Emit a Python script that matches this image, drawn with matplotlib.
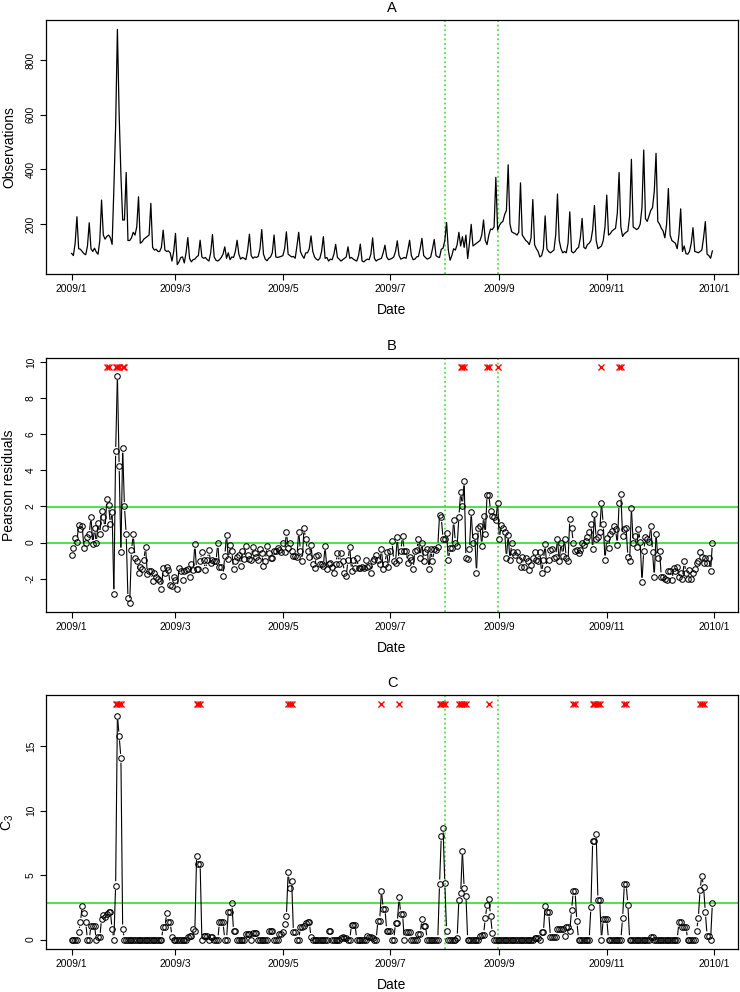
import numpy as np
import pandas as pd
import matplotlib
matplotlib.use('Agg')
import matplotlib.pyplot as plt
from matplotlib.collections import LineCollection

plt.rcParams['font.family'] = ['Liberation Sans', 'DejaVu Sans']
plt.rcParams['mathtext.default'] = 'regular'

# ---- data (daily, 2009-01-01 .. 2009-12-31) ----
start = pd.Timestamp('2009-01-01')
tick_dates = ['2009-01-01', '2009-03-01', '2009-05-01', '2009-07-01',
              '2009-09-01', '2009-11-01', '2010-01-01']
tick_labels = ['2009/1', '2009/3', '2009/5', '2009/7', '2009/9', '2009/11', '2010/1']
event_dates = ['2009-08-01', '2009-08-31']

observations = [
    93, 85, 130, 227, 110, 108, 100,
    92, 88, 120, 205, 110, 100, 112,
    98, 90, 140, 288, 160, 145, 155,
    160, 150, 126, 330, 560, 912, 600,
    380, 215, 215, 389, 140, 140, 150,
    170, 160, 190, 300, 130, 135, 145,
    150, 155, 160, 276, 115, 105, 108,
    100, 100, 115, 178, 105, 100, 102,
    95, 65, 100, 166, 52, 62, 78,
    80, 58, 95, 151, 75, 62, 70,
    72, 80, 85, 141, 80, 75, 78,
    70, 65, 95, 162, 80, 68, 65,
    70, 78, 90, 117, 75, 95, 70,
    80, 78, 100, 141, 90, 72, 78,
    75, 70, 105, 163, 85, 75, 80,
    78, 82, 110, 180, 90, 72, 66,
    75, 80, 95, 160, 80, 78, 80,
    82, 85, 110, 172, 90, 85, 80,
    82, 75, 120, 170, 100, 85, 75,
    95, 95, 110, 157, 100, 80, 72,
    68, 75, 100, 154, 75, 78, 65,
    72, 70, 90, 126, 78, 72, 65,
    70, 75, 80, 117, 75, 78, 72,
    68, 65, 85, 127, 65, 62, 68,
    72, 70, 90, 150, 75, 65, 70,
    72, 75, 95, 123, 80, 70, 72,
    75, 80, 100, 139, 85, 72, 75,
    78, 75, 105, 141, 85, 70, 72,
    80, 82, 110, 148, 85, 78, 72,
    75, 80, 110, 144, 85, 80, 78,
    108, 112, 140, 206, 105, 68, 85,
    110, 105, 125, 170, 120, 154, 115,
    160, 74, 130, 199, 120, 125, 130,
    135, 140, 160, 215, 140, 125, 160,
    182, 180, 190, 371, 178, 195, 205,
    210, 235, 250, 417, 200, 172, 168,
    165, 160, 170, 351, 160, 150, 140,
    135, 125, 150, 290, 125, 110, 100,
    80, 85, 110, 230, 110, 100, 95,
    100, 105, 160, 310, 140, 110, 95,
    100, 95, 130, 245, 100, 95, 100,
    110, 115, 150, 221, 115, 110, 125,
    130, 140, 180, 268, 140, 110, 115,
    120, 140, 190, 306, 160, 165, 175,
    180, 185, 240, 389, 190, 155, 165,
    170, 175, 230, 437, 190, 185, 180,
    185, 200, 260, 471, 220, 210, 230,
    250, 260, 320, 459, 210, 200, 185,
    175, 150, 200, 330, 160, 140, 135,
    130, 110, 160, 256, 100, 120, 92,
    90, 100, 130, 187, 100, 98, 95,
    100, 105, 150, 209, 90, 85, 75,
    102,
]

pearson = [
    -0.70, -0.30, 0.24, 0.04, 1.00, 0.74, 0.93,
    -0.33, -0.05, 0.31, 0.46, 1.43, -0.10, 0.80,
    -0.05, 1.10, 0.46, 1.76, 1.43, 0.78, 2.40,
    2.07, 1.02, 1.72, -2.83, 5.06, 9.25, 4.22,
    -0.52, 5.22, 2.00, 0.46, -3.10, -3.33, -0.43,
    0.46, -0.83, -1.05, -1.70, -1.35, -1.48, -0.98,
    -0.24, -1.72, -1.57, -1.60, -2.13, -1.67, -1.90,
    -2.04, -2.13, -2.55, -1.43, -1.67, -1.33, -1.54,
    -2.35, -2.40, -1.90, -2.10, -2.55, -1.39, -1.60,
    -2.07, -1.60, -1.54, -1.48, -1.90, -1.17, -1.54,
    -0.10, -1.48, -1.44, -1.05, -0.52, -0.98, -1.54,
    -0.98, -0.43, -1.11, -0.98, -1.02, -1.05, -0.05,
    -1.35, -1.35, -1.85, -0.74, 0.43, -0.93, -0.15,
    -0.46, -1.48, -1.05, -0.78, -0.70, -1.30, -0.46,
    -0.93, -0.19, -0.70, -0.89, -0.96, -0.22, -0.59,
    -0.78, -0.98, -0.37, -0.59, -1.30, -1.02, -0.19,
    -0.59, -0.83, -0.87, -0.46, -0.46, -0.31, -0.43,
    -0.52, 0.00, -0.52, 0.56, -0.28, -0.04, -0.46,
    -0.74, -0.74, -0.78, 0.61, -0.46, -1.02, 0.80,
    0.19, -0.46, -0.78, -0.13, -1.17, -1.43, -0.74,
    -0.70, -1.20, -1.17, -1.30, -0.19, -1.48, -1.20,
    -1.11, -1.33, -1.70, -1.17, -0.59, -1.17, -0.59,
    -1.02, -1.67, -1.85, -0.98, -0.22, -1.57, -0.98,
    -1.43, -0.83, -1.43, -1.39, -1.33, -1.43, -0.98,
    -1.35, -1.30, -1.67, -1.05, -0.90, -0.70, -0.98,
    -1.20, -0.37, -1.44, -1.17, -0.50, -1.35, -0.46,
    0.06, -1.02, -1.11, 0.28, -0.98, -0.46, 0.37,
    -0.46, -0.46, -1.11, -0.80, -0.98, -1.48, -0.46,
    -0.43, 0.17, -0.83, 0.00, -1.02, -0.50, -0.37,
    -1.48, -0.37, -1.05, -0.37, -0.43, -0.24, 1.52,
    1.39, 0.19, 0.19, 0.52, -0.98, -0.33, -0.28,
    1.24, 0.00, -0.20, 1.43, 2.81, 2.04, 3.41,
    -0.83, -0.89, -0.37, 1.70, 0.00, 0.37, -1.67,
    0.80, 0.89, -0.19, 1.48, 0.46, 2.65, 2.65,
    1.76, 1.48, 1.39, 1.26, 2.22, 0.19, 0.98,
    0.80, 0.61, -0.87, 0.43, -0.98, -0.05, -0.52,
    -0.70, -0.52, -0.96, -1.33, -0.80, -1.33, -0.83,
    -1.05, -1.54, -1.24, -0.83, -0.52, -0.96, -1.05,
    -0.50, -1.70, -0.98, -0.09, -1.44, -0.96, -0.43,
    -0.37, -0.87, -0.78, 0.19, -1.02, 0.00, -0.74,
    0.19, -0.83, -1.05, 1.30, 0.83, 0.00, -0.46,
    -0.43, -0.59, -0.43, 0.00, -0.15, 0.09, 0.31,
    0.56, 1.02, -0.37, 1.61, 0.19, 0.31, 0.61,
    2.22, 1.02, -0.96, 0.24, -0.31, 0.46, 0.65,
    0.89, 0.74, -0.13, 2.17, 2.69, 0.37, 0.74,
    0.83, -0.80, -1.05, 1.94, 0.00, 0.37, -0.24,
    0.74, 0.04, -2.19, -0.46, 0.28, 0.19, 0.04,
    0.93, -0.50, -1.90, 0.50, -0.83, -0.46, -1.90,
    -1.90, -2.04, -2.09, -1.57, -1.60, -2.09, -1.43,
    -1.60, -1.35, -1.90, -1.70, -2.00, -1.05, -1.70,
    -2.00, -1.52, -2.04, -1.70, -1.48, -1.15, -1.02,
    -0.52, -0.78, -1.15, -0.87, -1.15, -0.83, -1.60,
    -0.05,
]

c3 = [
    0, 0, 0, 0, 0.57, 1.34, 2.64,
    2.07, 1.34, 0, 0, 1.09, 1.09, 1.09,
    0, 0.18, 0.18, 1.60, 1.94, 1.73, 2.00,
    2.17, 2.17, 0.83, 0, 4.19, 17.38, 15.8,
    14.07, 0.83, 0, 0, 0, 0, 0,
    0, 0, 0, 0, 0, 0, 0,
    0, 0, 0, 0, 0, 0, 0,
    0, 0, 0, 0.96, 0.96, 2.07, 1.34,
    1.34, 0.23, 0, 0, 0, 0, 0,
    0, 0, 0, 0.18, 0.30, 0.30, 0.83,
    0.65, 6.52, 5.87, 5.87, 0, 0.30, 0.30,
    0.30, 0, 0.18, 0.18, 0, 0, 0,
    1.34, 1.34, 1.34, 0, 0, 2.17, 2.17,
    2.82, 0.65, 0.65, 0, 0, 0, 0,
    0, 0.44, 0.44, 0.44, 0, 0.49, 0.49,
    0.49, 0, 0, 0, 0, 0, 0,
    0.70, 0.70, 0.70, 0, 0, 0, 0.44,
    0.44, 0.57, 1.22, 1.81, 5.22, 4.00, 4.58,
    0.57, 0.57, 0, 0, 0.96, 0.96, 1.09,
    1.27, 1.34, 1.34, 0.18, 0, 0, 0,
    0, 0, 0, 0, 0, 0, 0.65,
    0.65, 0, 0, 0, 0, 0, 0.13,
    0.23, 0.13, 0.13, 0, 0, 1.16, 1.16,
    1.16, 0, 0, 0, 0, 0, 0,
    0.30, 0.23, 0.23, 0.13, 0, 0, 1.47,
    1.47, 3.80, 2.38, 2.38, 0.70, 0.70, 0.70,
    0, 0, 1.29, 1.29, 3.28, 1.99, 1.99,
    0, 0.57, 0.57, 0.57, 0, 0, 0,
    0, 0.44, 0.44, 1.60, 1.09, 1.09, 0,
    0, 0, 0, 0, 0, 0, 4.32,
    8.02, 8.66, 4.37, 0.70, 0, 0, 0,
    0, 0, 0.13, 3.10, 3.59, 6.90, 3.98,
    3.41, 0, 0, 0, 0, 0, 0,
    0, 0.30, 0.39, 0.39, 1.66, 2.69, 3.15,
    1.86, 0.49, 0, 0, 0, 0, 0,
    0, 0, 0, 0, 0, 0, 0,
    0, 0, 0, 0, 0, 0, 0,
    0, 0, 0, 0, 0.13, 0.13, 0.13,
    0, 0.57, 0.57, 2.64, 2.12, 2.12, 0.18,
    0.18, 0.18, 0.18, 0.83, 0.83, 0.83, 0.83,
    0.30, 1.00, 1.00, 0.65, 2.30, 3.75, 3.75,
    1.42, 0, 0, 0, 0, 0, 0,
    0, 2.51, 7.63, 7.63, 8.20, 3.08, 3.08,
    0, 1.60, 1.60, 1.60, 0, 0, 0,
    0, 0, 0, 0, 0, 1.66, 4.32,
    4.32, 2.72, 0, 0, 0, 0, 0,
    0, 0, 0, 0, 0, 0, 0,
    0.18, 0.18, 0, 0, 0, 0, 0,
    0, 0, 0, 0, 0, 0, 0,
    0, 0, 1.34, 1.34, 0.96, 0.96, 0.96,
    0, 0, 0, 0, 0, 0.70, 1.66,
    3.85, 4.97, 4.11, 2.12, 0.30, 0.30, 0,
    2.82,
]

pearson_threshold = 1.96
c3_threshold = 2.85

obs = np.array(observations, dtype=float)
res = np.array(pearson, dtype=float)
c3v = np.array(c3, dtype=float)
days = np.arange(len(obs))

GREEN = '#2fdc2f'


def day_of(s):
    return (pd.Timestamp(s) - start).days


def type_b(ax, x, y, gap=4.4, lw=0.8):
    # R type="b": points joined by line pieces that stop short of the symbols
    pts = ax.transData.transform(np.column_stack([x, y]))
    inv = ax.transData.inverted()
    segs = []
    for p0, p1 in zip(pts[:-1], pts[1:]):
        d = p1 - p0
        L = np.hypot(d[0], d[1])
        if L > 2 * gap + 0.8:
            u = d / L
            segs.append(inv.transform(np.array([p0 + u * gap, p1 - u * gap])))
    ax.add_collection(LineCollection(segs, colors='black', linewidths=lw))
    ax.plot(x, y, 'o', ms=4.0, mfc='none', mec='black', mew=0.75, zorder=3)


def style(ax, lo, hi, title, ylabel, yticks):
    pad = 0.04 * (hi - lo)
    ax.set_ylim(lo - pad, hi + pad)
    xpad = 0.04 * (days[-1] - days[0])
    ax.set_xlim(days[0] - xpad, days[-1] + xpad)
    ax.set_xticks([day_of(t) for t in tick_dates])
    ax.set_xticklabels(tick_labels)
    ax.set_yticks(yticks)
    ax.set_yticklabels([str(v) for v in yticks], rotation=90, va='center')
    ax.tick_params(direction='out', length=4.3, width=0.8, labelsize=7.4, pad=3)
    for sp in ax.spines.values():
        sp.set_linewidth(0.9)
    ax.set_title(title, fontsize=10.5, pad=5.5)
    ax.set_xlabel('Date', fontsize=10)
    ax.set_ylabel(ylabel, fontsize=10)
    ax.xaxis.set_label_coords(0.5, -0.114)
    ax.yaxis.set_label_coords(-0.043, 0.5)
    for ev in event_dates:
        ax.axvline(day_of(ev), color=GREEN, ls=(0, (1.2, 1.8)), lw=1.1, zorder=1)


fig = plt.figure(figsize=(7.4, 9.92), dpi=100)
W = 692 / 740
L0 = 46 / 740
H = 254 / 992

# A: observations
axA = fig.add_axes([L0, 1 - 274 / 992, W, H])
style(axA, obs.min(), obs.max(), 'A', 'Observations', [200, 400, 600, 800])
axA.plot(days, obs, color='black', lw=0.9)

# B: Pearson residuals
axB = fig.add_axes([L0, 1 - 612 / 992, W, H])
markB = 1.05 * res.max()
style(axB, res.min(), markB, 'B', 'Pearson residuals', [-2, 0, 2, 4, 6, 8, 10])
axB.axhline(0, color=GREEN, lw=1.2, zorder=1)
axB.axhline(pearson_threshold, color=GREEN, lw=1.2, zorder=1)
type_b(axB, days, res)
alB = days[res > pearson_threshold]
axB.plot(alB, np.full(len(alB), markB), 'x', color='red', ms=4.0, mew=1.0)

# C: C3 statistic
axC = fig.add_axes([L0, 1 - 949 / 992, W, H])
markC = 1.05 * c3v.max()
style(axC, c3v.min(), markC, 'C', 'C$_3$', [0, 5, 10, 15])
axC.axhline(c3_threshold, color=GREEN, lw=1.2, zorder=1)
type_b(axC, days, c3v)
alC = days[c3v > c3_threshold]
axC.plot(alC, np.full(len(alC), markC), 'x', color='red', ms=4.0, mew=1.0)

fig.savefig('out.png', dpi=100)
